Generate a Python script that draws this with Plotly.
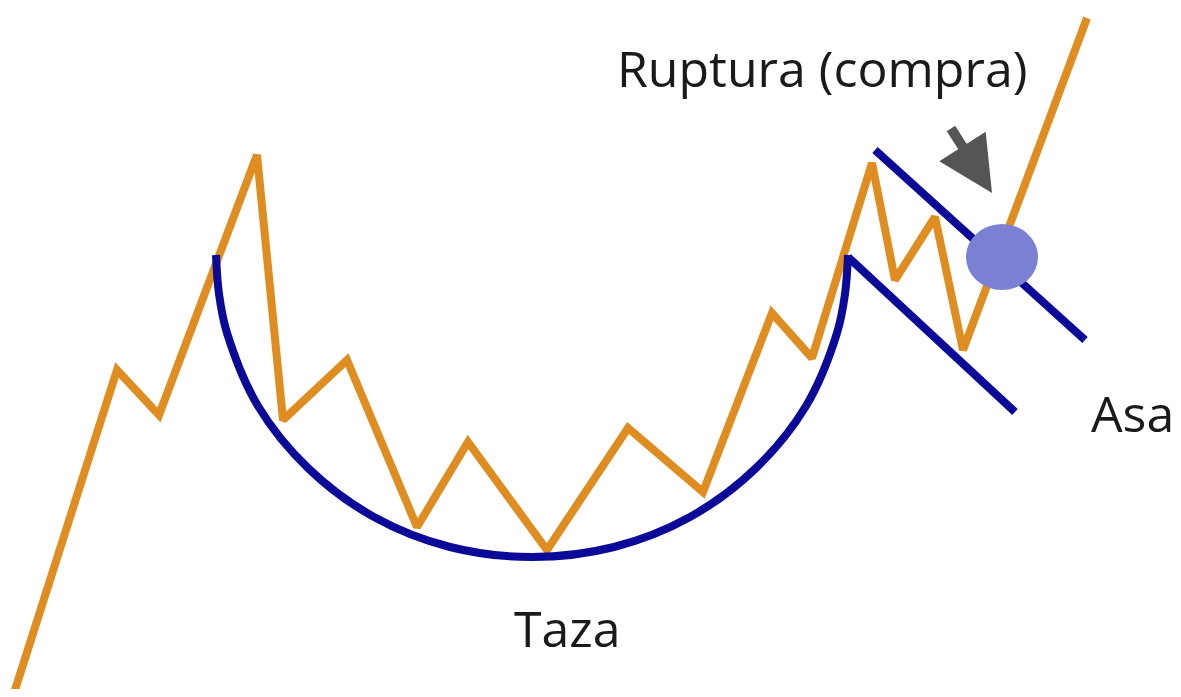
import plotly.graph_objects as go

# price path (pixel-like coordinates, y grows downward)
price_x = [15, 117, 159, 257, 283, 347, 417, 468, 547, 628, 703, 772, 812, 872, 895, 935, 963, 1087]
price_y = [690, 370, 415, 155, 420, 360, 527, 442, 550, 428, 492, 313, 358, 163, 280, 217, 350, 18]

# cup curve
cup_x = [216, 219, 227, 258, 309, 374, 450, 532, 614, 690, 755, 806, 837, 845, 848]
cup_y = [255, 294, 333, 406, 469, 517, 547, 557, 547, 517, 469, 406, 333, 294, 255]

# handle channel lines
upper_x = [875, 1085]
upper_y = [150, 340]
lower_x = [848, 1015]
lower_y = [257, 412]

# breakout point
break_x = [1002]
break_y = [257]

orange = "#df8c20"
navy = "#0b0a98"

fig = go.Figure()
fig.add_trace(go.Scatter(x=price_x, y=price_y, mode="lines", cliponaxis=False,
                         line=dict(color=orange, width=8), hoverinfo="skip"))
fig.add_trace(go.Scatter(x=cup_x, y=cup_y, mode="lines",
                         line=dict(color=navy, width=8, shape="spline"), hoverinfo="skip"))
fig.add_trace(go.Scatter(x=upper_x, y=upper_y, mode="lines",
                         line=dict(color=navy, width=8), hoverinfo="skip"))
fig.add_trace(go.Scatter(x=lower_x, y=lower_y, mode="lines",
                         line=dict(color=navy, width=8), hoverinfo="skip"))
fig.add_shape(type="circle", x0=break_x[0] - 36, x1=break_x[0] + 36,
              y0=break_y[0] - 33, y1=break_y[0] + 33,
              fillcolor="#7a80d2", line=dict(width=0))

# arrow pointing at breakout
fig.add_annotation(x=992, y=193, ax=950, ay=127, xref="x", yref="y", axref="x", ayref="y",
                   text="", showarrow=True, arrowhead=2, arrowsize=1.1, arrowwidth=10,
                   arrowcolor="#555555")

font = dict(family="Open Sans", size=50, color="#1a1a1a")
fig.add_annotation(x=822, y=68, text="Ruptura (compra)", showarrow=False, font=font)
fig.add_annotation(x=1132, y=413, text="Asa", showarrow=False, font=font)
fig.add_annotation(x=567, y=628, text="Taza", showarrow=False, font=font)

# page body has an 8px margin, so shift the ranges to keep pixel positions
fig.update_xaxes(range=[8, 1173], visible=False)
fig.update_yaxes(range=[689, 8], visible=False)
fig.update_layout(width=1165, height=681, margin=dict(l=0, r=0, t=0, b=0),
                  plot_bgcolor="white", paper_bgcolor="white", showlegend=False)

fig.write_html("out.html")
